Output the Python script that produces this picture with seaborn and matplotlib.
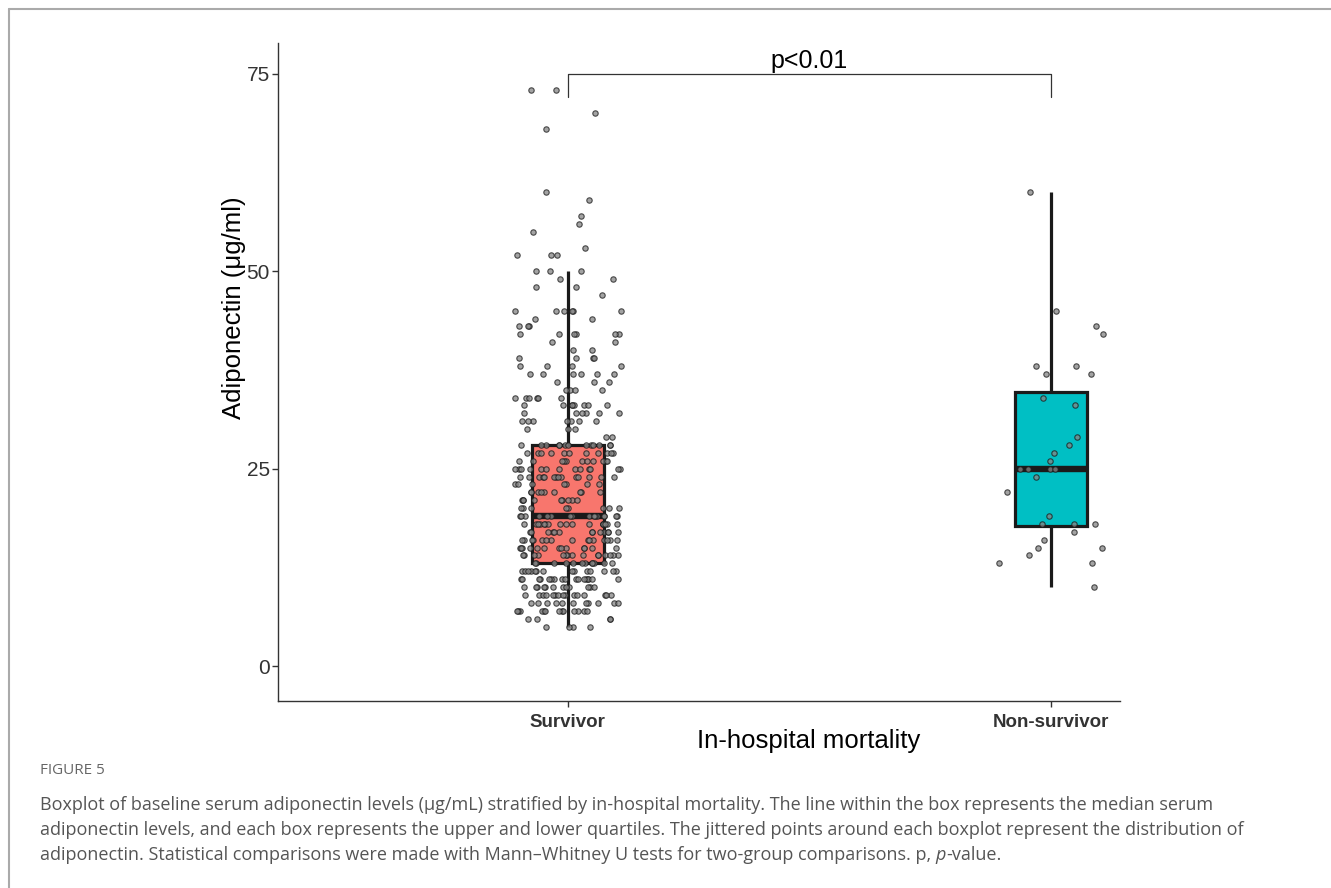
import numpy as np
import pandas as pd
import matplotlib
matplotlib.use("Agg")
import matplotlib.pyplot as plt
import seaborn as sns
from matplotlib.lines import Line2D

# ---------------- data ----------------
groups = ["Survivor", "Non-survivor"]
box_colors = ["#F8766D", "#00BFC4"]

surv_values = [5, 6, 7, 8, 9, 10, 11, 12, 13, 14, 15, 16, 17, 18, 19, 20, 21, 22,
               23, 24, 25, 26, 27, 28, 29, 30, 31, 32, 33, 34, 35, 36, 37, 38, 39,
               40, 41, 42, 43, 44, 45, 47, 48, 49, 50, 52, 53, 55, 56, 57, 59, 60,
               68, 70, 73]
surv_counts = [4, 4, 13, 11, 15, 12, 17, 14, 12, 15, 13, 15, 13, 17, 16, 8, 9, 9,
               7, 14, 13, 11, 11, 13, 2, 3, 7, 6, 8, 6, 4, 3, 6, 4, 4,
               2, 2, 6, 3, 2, 6, 1, 2, 2, 3, 3, 1, 1, 1, 1, 1, 1,
               1, 1, 2]

nonsurv_values = [10, 13, 13, 14, 15, 15, 16, 17, 18, 18, 18, 19, 22, 24, 25, 25,
                  25, 25, 26, 27, 28, 29, 33, 34, 37, 37, 38, 38, 42, 43, 45, 60]

y_ticks = [0, 25, 50, 75]
p_label = "p<0.01"
x_title = "In-hospital mortality"
y_title = "Adiponectin (μg/ml)"
caption_head = "FIGURE 5"
caption_lines = [
    "Boxplot of baseline serum adiponectin levels (μg/mL) stratified by in-hospital mortality. The line within the box represents the median serum",
    "adiponectin levels, and each box represents the upper and lower quartiles. The jittered points around each boxplot represent the distribution of",
    "adiponectin. Statistical comparisons were made with Mann\u2013Whitney U tests for two-group comparisons. p, ",
]

surv = np.repeat(surv_values, surv_counts)
df = pd.DataFrame({
    "group": ["Survivor"] * len(surv) + ["Non-survivor"] * len(nonsurv_values),
    "value": np.concatenate([surv, np.array(nonsurv_values)]).astype(float),
})

# ---------------- style ----------------
sns.set_theme(style="ticks")
plt.rcParams["font.family"] = ["Liberation Sans", "DejaVu Sans"]

fig = plt.figure(figsize=(13.31, 8.88), dpi=100)
ax = fig.add_axes([278 / 1331, 1 - 701 / 888, (1120 - 278) / 1331, (701 - 43) / 888])

sns.boxplot(data=df, x="group", y="value", hue="group", order=groups, hue_order=groups,
            palette=box_colors, width=0.15, saturation=1, showfliers=False,
            showcaps=False, linewidth=2.3, linecolor="#1a1a1a",
            medianprops=dict(linewidth=4.6, color="#1a1a1a"),
            legend=False, ax=ax, zorder=1)

np.random.seed(3)
sns.stripplot(data=df, x="group", y="value", order=groups, color="#858585",
              edgecolor="#1a1a1a", linewidth=0.8, size=3.9, jitter=0.11,
              alpha=0.75, ax=ax, zorder=3)

ax.set_xlim(-0.6, 1.143)
ax.set_ylim(-4.43, 78.9)
ax.set_yticks(y_ticks)
ax.set_yticklabels([str(t) for t in y_ticks])

for side in ["top", "right"]:
    ax.spines[side].set_visible(False)
for side in ["left", "bottom"]:
    ax.spines[side].set_color("#333333")
    ax.spines[side].set_linewidth(1.0)

ax.tick_params(axis="both", length=4, width=1.0, color="#333333")
ax.tick_params(axis="y", labelsize=15, labelcolor="#333333", pad=2)
ax.tick_params(axis="x", labelsize=13.5, labelcolor="#333333", pad=5)
for lab in ax.get_xticklabels():
    lab.set_fontweight("bold")

ax.set_xlabel(x_title, fontsize=18.5, color="black")
ax.set_ylabel(y_title, fontsize=18.5, color="black")
ax.xaxis.set_label_coords((809 - 278) / 842, (701 - 729) / 658)
ax.yaxis.set_label_coords((246 - 278) / 842, (701 - 308) / 658)

# significance bracket
all_vals = df["value"].to_numpy()
top = all_vals.max() + 2
tip = all_vals.max() - 1
ax.plot([0, 0, 1, 1], [tip, top, top, tip], color="#333333", lw=0.9,
        clip_on=False, zorder=4)
ax.text(0.5, top + 0.1, p_label, ha="center", va="bottom", fontsize=18, color="black")

# figure frame lines
fig.add_artist(Line2D([9 / 1331, 1], [1 - 9 / 888, 1 - 9 / 888], color="#aaaaaa", lw=1.5))
fig.add_artist(Line2D([9 / 1331, 9 / 1331], [0, 1 - 9 / 888], color="#aaaaaa", lw=1.5))

# caption
cap_font = ["Open Sans", "DejaVu Sans"]
cap_size = 13
fig.text(40 / 1331, 1 - 770 / 888, caption_head, fontsize=11, color="#666666",
         family=cap_font, va="center")
ys = [805, 830, 855]
for i, line in enumerate(caption_lines):
    t = fig.text(40 / 1331, 1 - ys[i] / 888, line, fontsize=cap_size, color="#555555",
                 family=cap_font, va="center")
# italic p-value tail on last line
fig.canvas.draw()
r = fig.canvas.get_renderer()
bb = t.get_window_extent(renderer=r)
t2 = fig.text(bb.x1 / 1331, 1 - ys[2] / 888, "p", fontsize=cap_size, color="#555555",
              family=cap_font, style="italic", va="center")
bb2 = t2.get_window_extent(renderer=r)
fig.text(bb2.x1 / 1331, 1 - ys[2] / 888, "-value.", fontsize=cap_size, color="#555555",
         family=cap_font, va="center")

fig.savefig("out.png", dpi=100)
